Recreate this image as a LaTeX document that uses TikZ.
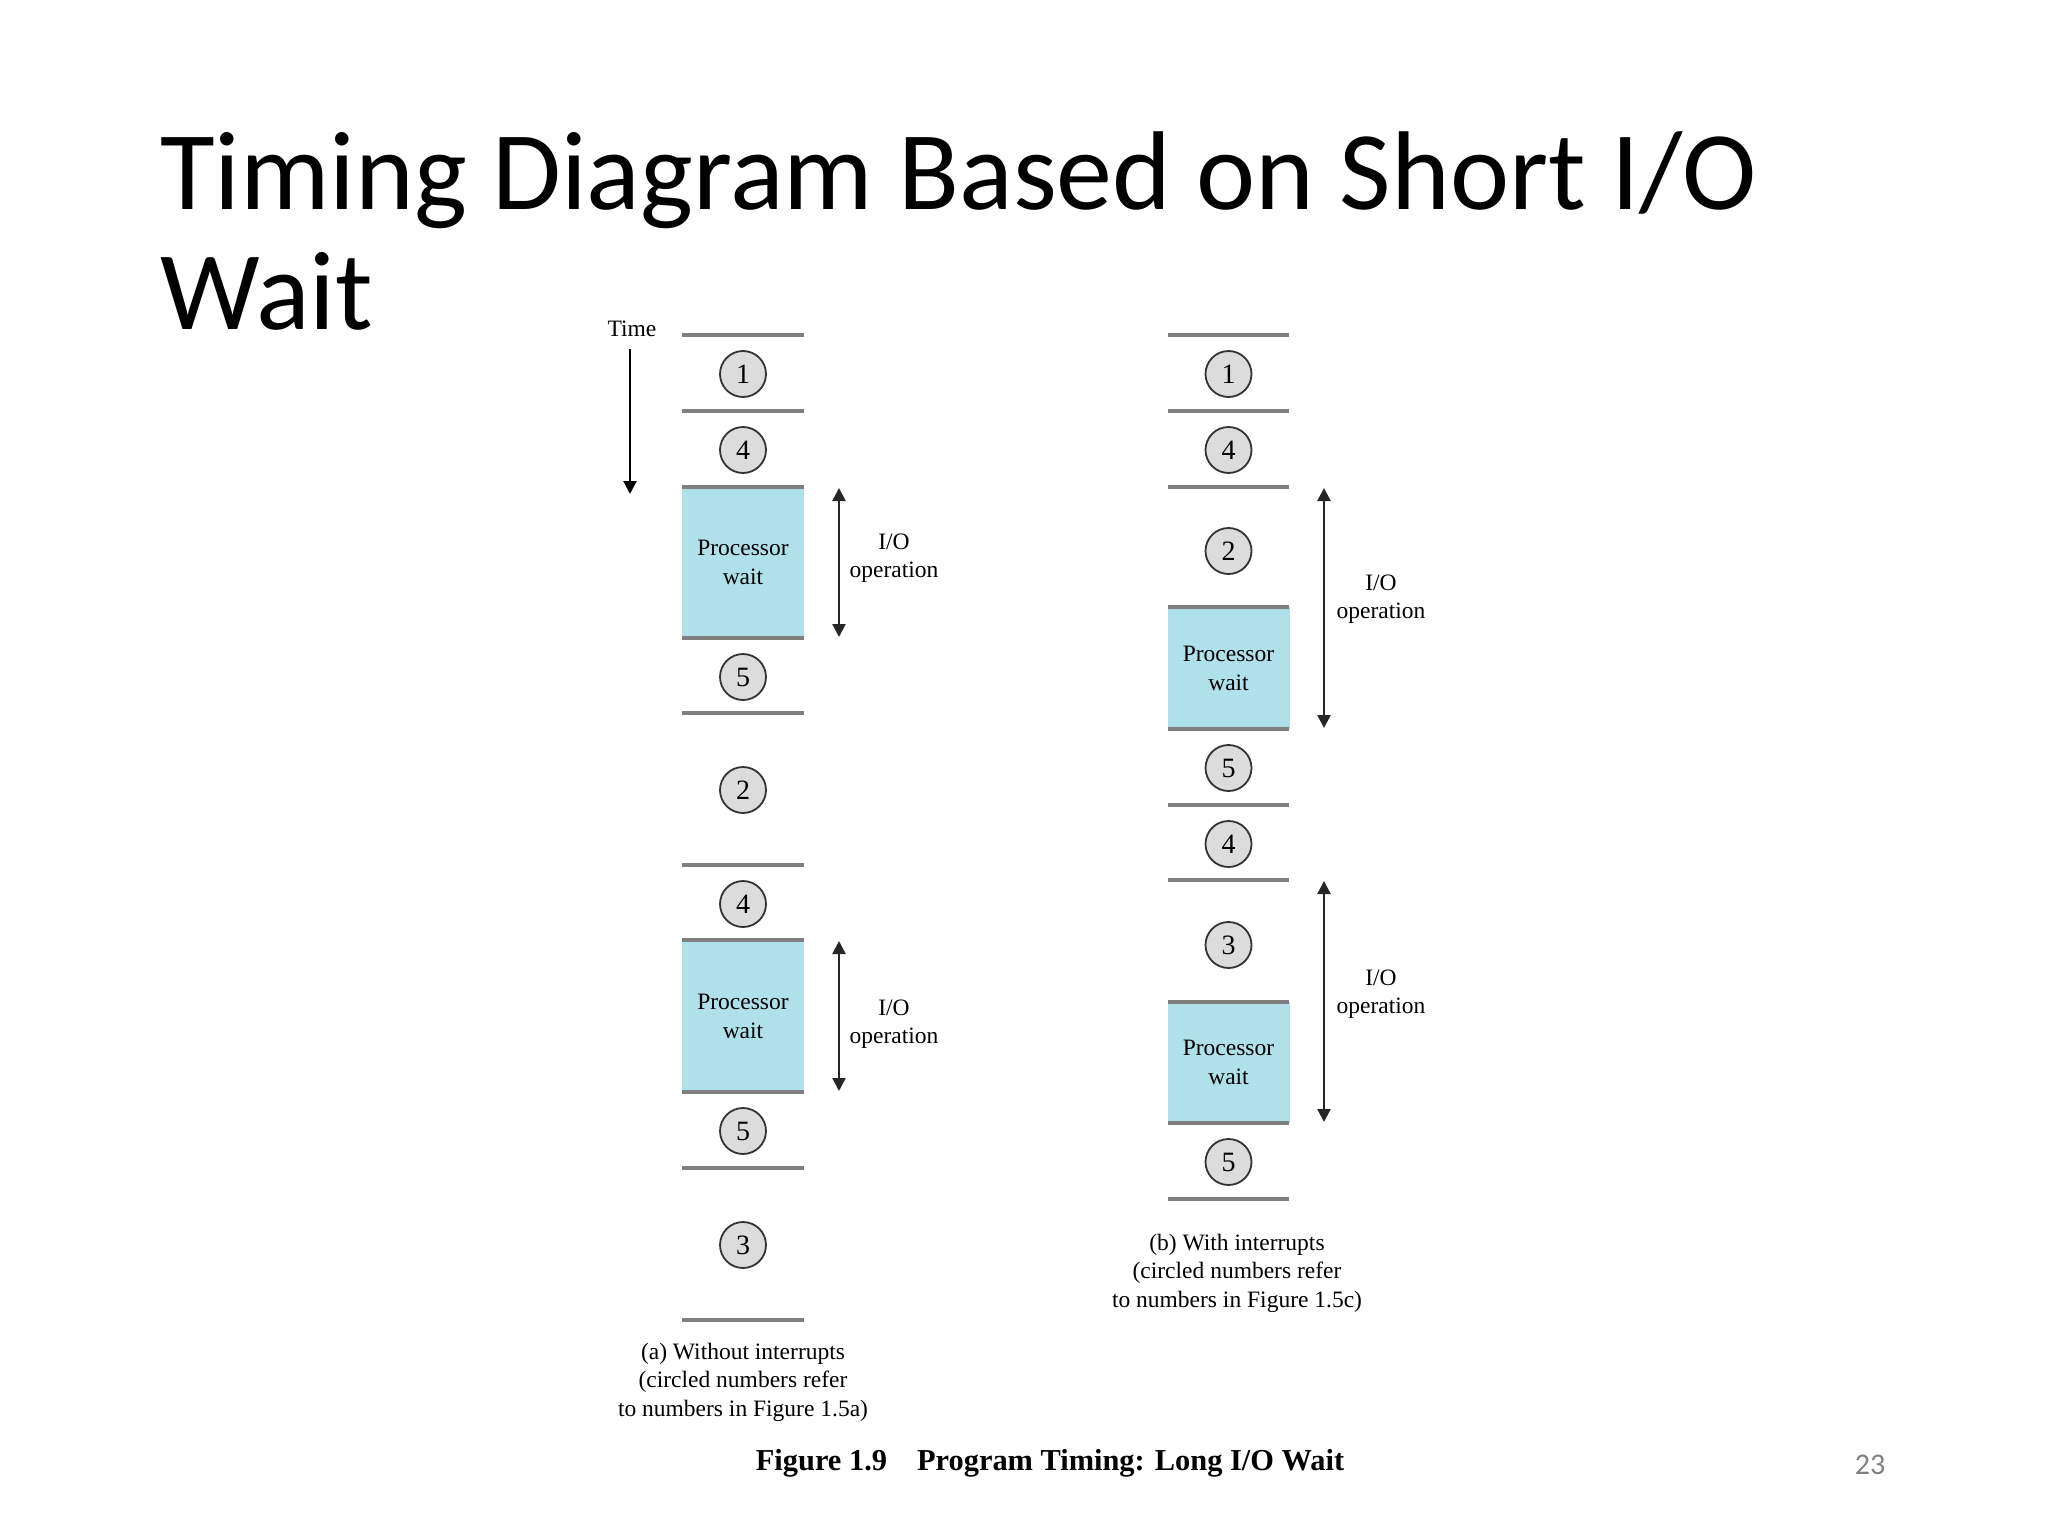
\documentclass[tikz,border=0pt]{standalone}
\usepackage{fontspec}
\setmainfont{Liberation Serif}
\newfontfamily\titlefont{Carlito}
\usetikzlibrary{arrows.meta}
\definecolor{boxblue}{HTML}{B0E0EA}
\definecolor{sepgray}{HTML}{7F7F7F}
\definecolor{circfill}{HTML}{DCDCDC}
\definecolor{circline}{HTML}{333333}
\definecolor{pagegray}{HTML}{808080}
\begin{document}
\begin{tikzpicture}[x=1pt,y=-1pt,
  sepline/.style={draw=sepgray,line width=3.5pt},
  waitbox/.style={fill=boxblue,draw=none,minimum width=122pt,align=center,inner sep=0pt,font=\fontsize{23.5}{29}\selectfont},
  num/.style={circle,draw=circline,line width=1.8pt,fill=circfill,minimum size=46pt,inner sep=0pt,font=\fontsize{28}{28}\selectfont},
  lbl/.style={align=center,font=\fontsize{23.5}{28.5}\selectfont,inner sep=0pt},
  ioarrow/.style={draw=black!85,line width=2.4pt,{Triangle[width=13pt,length=13pt]}-{Triangle[width=13pt,length=13pt]}},
  timearrow/.style={draw=black,line width=2.2pt,-{Triangle[width=13pt,length=13pt]}},
]
\useasboundingbox (0,0) rectangle (2048,1536);

% title
\node[anchor=base west,inner sep=0pt,font=\titlefont\fontsize{112}{120}\selectfont] (title1) at (160,209) {Timing Diagram Based on Short I/O};
\node[anchor=base west,inner sep=0pt,font=\titlefont\fontsize{112}{120}\selectfont] (title2) at (160,329) {Wait};

% time
\node[lbl] (time) at (632,329) {Time};
\coordinate (ts) at (630,349);
\coordinate (te) at (630,494);
\draw[timearrow] (ts) -- (te);

% ---------- column (a) ----------
\node[waitbox,minimum height=151pt] (wa1) at (743,562.5) {Processor\\wait};
\node[waitbox,minimum height=152pt] (wa2) at (743,1016) {Processor\\wait};
\foreach \y in {335,411,487,638,713,865,940,1092,1168,1320}
  \draw[sepline] (682,\y) -- (804,\y);
\node[num] (a1) at (743,374) {1};
\node[num] (a2) at (743,450) {4};
\node[num] (a3) at (743,677) {5};
\node[num] (a4) at (743,790) {2};
\node[num] (a5) at (743,904) {4};
\node[num] (a6) at (743,1131) {5};
\node[num] (a7) at (743,1245) {3};

\coordinate (ioa1s) at (839,488);
\coordinate (ioa1e) at (839,637);
\draw[ioarrow] (ioa1s) -- (ioa1e);
\node[lbl] (ioal1) at (894,558) {I/O\\operation};
\coordinate (ioa2s) at (839,941);
\coordinate (ioa2e) at (839,1091);
\draw[ioarrow] (ioa2s) -- (ioa2e);
\node[lbl] (ioal2) at (894,1024) {I/O\\operation};

\node[lbl] (capa) at (743,1382) {(a) Without interrupts\\(circled numbers refer\\to numbers in Figure 1.5a)};

% ---------- column (b) ----------
\node[waitbox,minimum height=122pt] (wb1) at (1228.5,668) {Processor\\wait};
\node[waitbox,minimum height=121pt] (wb2) at (1228.5,1062.5) {Processor\\wait};
\foreach \y in {335,411,487,607,729,805,880,1002,1123,1199}
  \draw[sepline] (1168,\y) -- (1289,\y);
\node[num] (b1) at (1228.5,374) {1};
\node[num] (b2) at (1228.5,450) {4};
\node[num] (b3) at (1228.5,551) {2};
\node[num] (b4) at (1228.5,768) {5};
\node[num] (b5) at (1228.5,844) {4};
\node[num] (b6) at (1228.5,945) {3};
\node[num] (b7) at (1228.5,1162) {5};

\coordinate (iob1s) at (1324,488);
\coordinate (iob1e) at (1324,728);
\draw[ioarrow] (iob1s) -- (iob1e);
\node[lbl] (iobl1) at (1381,599) {I/O\\operation};
\coordinate (iob2s) at (1324,881);
\coordinate (iob2e) at (1324,1122);
\draw[ioarrow] (iob2s) -- (iob2e);
\node[lbl] (iobl2) at (1381,994) {I/O\\operation};

\node[lbl] (capb) at (1237,1273) {(b) With interrupts\\(circled numbers refer\\to numbers in Figure 1.5c)};

% figure caption
\node[anchor=base,inner sep=0pt,font=\bfseries\fontsize{30.4}{31}\selectfont] (figcap) at (1050,1470) {Figure 1.9\hspace{30pt}Program Timing: Long I/O Wait};

% page number
\node[inner sep=0pt,text=pagegray,font=\titlefont\fontsize{30}{30}\selectfont] (pagenum) at (1870,1465) {23};
\end{tikzpicture}
\end{document}
